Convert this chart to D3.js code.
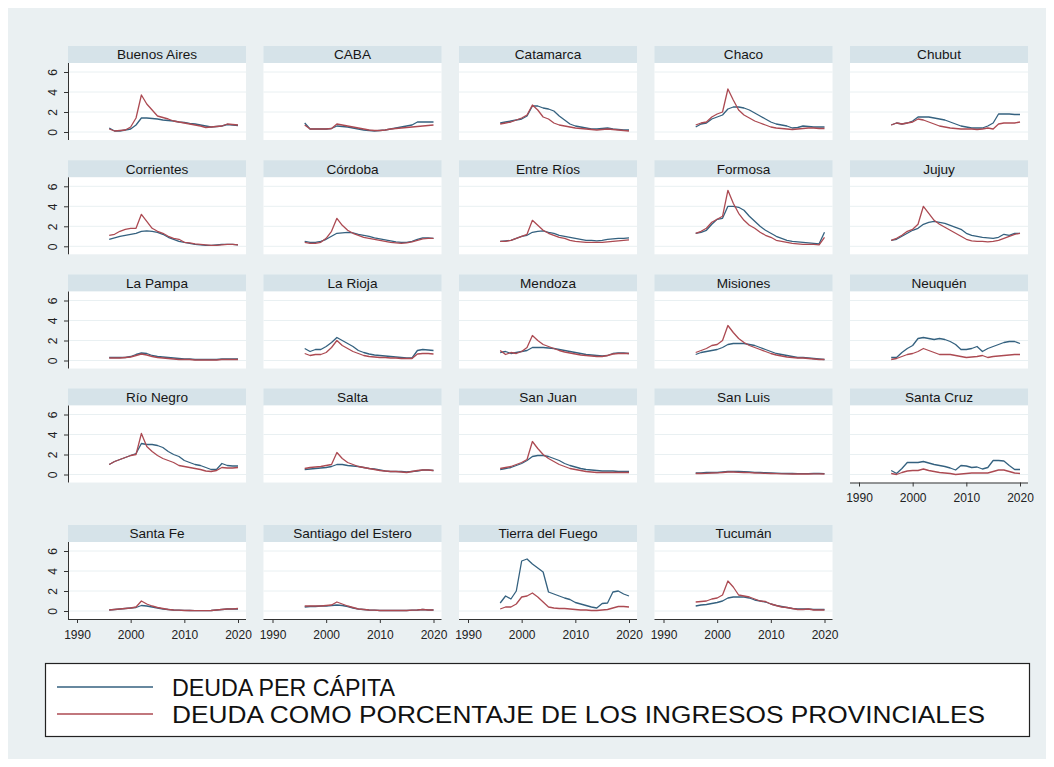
<!DOCTYPE html>
<html><head><meta charset="utf-8">
<script src="https://cdn.jsdelivr.net/npm/d3@7"></script>
<style>html,body{margin:0;padding:0;background:#ffffff}</style>
</head><body><svg id="c" width="1054" height="767"></svg>
<script>
// ---------------- DATA ----------------
const years = [1996,1997,1998,1999,2000,2001,2002,2003,2004,2005,2006,2007,2008,2009,2010,2011,2012,2013,2014,2015,2016,2017,2018,2019,2020];
const provinces = ["Buenos Aires","CABA","Catamarca","Chaco","Chubut","Corrientes","Córdoba","Entre Ríos","Formosa","Jujuy","La Pampa","La Rioja","Mendoza","Misiones","Neuquén","Río Negro","Salta","San Juan","San Luis","Santa Cruz","Santa Fe","Santiago del Estero","Tierra del Fuego","Tucumán"];
const seriesNames = ["DEUDA PER CÁPITA","DEUDA COMO PORCENTAJE DE LOS INGRESOS PROVINCIALES"];
const yTicks = [0,2,4,6];
const xTicks = [1990,2000,2010,2020];

// Deuda per cápita (one array per province, order as in provinces)
const perCapita = [
 [0.4,0.1,0.1,0.2,0.3,0.7,1.4,1.4,1.35,1.3,1.2,1.15,1.1,1.0,0.95,0.85,0.8,0.7,0.6,0.5,0.55,0.6,0.75,0.7,0.65],
 [0.9,0.3,0.3,0.3,0.3,0.35,0.6,0.55,0.5,0.4,0.3,0.2,0.15,0.1,0.15,0.2,0.3,0.4,0.5,0.6,0.7,1.0,1.0,1.0,1.0],
 [0.9,1.0,1.1,1.2,1.3,1.6,2.6,2.6,2.4,2.3,2.1,1.6,1.2,0.8,0.6,0.5,0.4,0.3,0.3,0.35,0.4,0.3,0.25,0.2,0.2],
 [0.5,0.8,0.9,1.3,1.5,1.7,2.3,2.5,2.5,2.4,2.2,1.9,1.6,1.3,1.0,0.8,0.7,0.6,0.4,0.45,0.6,0.55,0.5,0.5,0.5],
 [0.7,0.9,0.8,0.9,1.1,1.5,1.5,1.5,1.4,1.3,1.2,1.0,0.8,0.6,0.5,0.4,0.4,0.4,0.6,0.9,1.8,1.8,1.8,1.75,1.75],
 [0.7,0.85,1.0,1.1,1.2,1.3,1.5,1.55,1.5,1.4,1.2,0.9,0.7,0.5,0.4,0.3,0.2,0.15,0.1,0.1,0.15,0.2,0.2,0.2,0.15],
 [0.5,0.4,0.4,0.5,0.7,1.0,1.3,1.35,1.4,1.35,1.2,1.1,1.0,0.85,0.75,0.65,0.55,0.45,0.4,0.4,0.5,0.7,0.85,0.85,0.8],
 [0.5,0.55,0.6,0.8,1.0,1.1,1.4,1.5,1.55,1.4,1.3,1.1,1.0,0.9,0.8,0.7,0.6,0.6,0.55,0.6,0.7,0.75,0.8,0.8,0.85],
 [1.3,1.4,1.6,2.2,2.7,2.8,4.0,4.0,3.9,3.6,3.0,2.5,2.0,1.6,1.3,1.0,0.8,0.6,0.5,0.45,0.4,0.35,0.3,0.25,1.4],
 [0.6,0.7,1.0,1.3,1.6,1.8,2.2,2.4,2.5,2.4,2.3,2.1,1.9,1.7,1.3,1.1,1.0,0.9,0.85,0.8,0.9,1.2,1.1,1.3,1.3],
 [0.3,0.3,0.3,0.3,0.4,0.6,0.75,0.7,0.5,0.4,0.35,0.3,0.25,0.2,0.15,0.15,0.1,0.1,0.1,0.1,0.1,0.15,0.15,0.15,0.15],
 [1.2,0.9,1.1,1.1,1.4,1.8,2.3,2.0,1.7,1.4,1.0,0.8,0.65,0.55,0.5,0.45,0.4,0.35,0.3,0.25,0.25,1.0,1.1,1.05,1.0],
 [0.8,0.9,0.7,0.8,0.9,1.0,1.3,1.3,1.3,1.25,1.2,1.1,1.0,0.9,0.8,0.7,0.6,0.55,0.5,0.45,0.5,0.7,0.75,0.75,0.7],
 [0.6,0.8,0.9,1.0,1.1,1.3,1.6,1.7,1.7,1.7,1.6,1.5,1.3,1.1,0.9,0.7,0.6,0.5,0.4,0.3,0.3,0.25,0.2,0.15,0.1],
 [0.3,0.3,0.8,1.2,1.5,2.2,2.3,2.2,2.1,2.2,2.1,1.9,1.6,1.1,1.1,1.2,1.4,0.9,1.2,1.4,1.6,1.8,1.9,1.9,1.7],
 [1.0,1.3,1.5,1.7,1.9,2.1,3.1,3.0,3.0,2.9,2.7,2.3,2.0,1.8,1.4,1.2,1.0,0.9,0.7,0.5,0.5,1.1,0.9,0.85,0.85],
 [0.5,0.55,0.6,0.65,0.7,0.8,1.0,1.0,0.9,0.85,0.8,0.7,0.6,0.55,0.45,0.35,0.3,0.3,0.3,0.25,0.3,0.35,0.45,0.45,0.4],
 [0.5,0.6,0.7,0.9,1.1,1.4,1.8,1.9,1.9,1.8,1.6,1.4,1.1,0.9,0.75,0.6,0.5,0.45,0.4,0.35,0.35,0.35,0.3,0.3,0.3],
 [0.15,0.15,0.2,0.2,0.2,0.25,0.3,0.3,0.3,0.28,0.25,0.22,0.2,0.18,0.15,0.13,0.12,0.1,0.1,0.08,0.08,0.08,0.1,0.1,0.08],
 [0.4,0.1,0.6,1.2,1.2,1.2,1.3,1.15,1.0,0.9,0.8,0.65,0.45,0.9,0.85,0.7,0.75,0.55,0.7,1.4,1.4,1.35,0.9,0.5,0.5],
 [0.1,0.15,0.2,0.25,0.3,0.35,0.55,0.5,0.4,0.3,0.2,0.15,0.1,0.08,0.06,0.05,0.04,0.03,0.03,0.05,0.1,0.15,0.2,0.2,0.2],
 [0.4,0.45,0.45,0.5,0.5,0.55,0.6,0.55,0.45,0.3,0.2,0.15,0.1,0.08,0.05,0.05,0.05,0.05,0.05,0.05,0.08,0.1,0.15,0.1,0.1],
 [0.8,1.5,1.2,2.0,5.0,5.2,4.7,4.3,3.9,1.9,1.7,1.5,1.3,1.15,0.85,0.7,0.55,0.4,0.3,0.75,0.8,1.9,2.0,1.7,1.5],
 [0.5,0.6,0.65,0.75,0.85,1.0,1.3,1.4,1.4,1.4,1.3,1.1,1.0,0.9,0.7,0.55,0.45,0.35,0.25,0.2,0.2,0.2,0.15,0.15,0.15]
];
// Deuda como porcentaje de los ingresos provinciales
const pctIngresos = [
 [0.3,0.1,0.15,0.2,0.5,1.4,3.7,2.8,2.2,1.6,1.45,1.3,1.1,1.0,0.9,0.8,0.7,0.6,0.45,0.5,0.55,0.6,0.8,0.75,0.7],
 [0.7,0.3,0.3,0.3,0.3,0.35,0.8,0.7,0.6,0.5,0.4,0.3,0.2,0.15,0.15,0.2,0.3,0.35,0.4,0.45,0.5,0.55,0.6,0.65,0.7],
 [0.8,0.9,1.0,1.2,1.4,1.7,2.7,2.2,1.5,1.3,0.9,0.7,0.6,0.5,0.4,0.35,0.3,0.25,0.2,0.25,0.3,0.25,0.2,0.15,0.1],
 [0.7,0.9,1.0,1.5,1.8,2.0,4.3,3.2,2.2,1.7,1.4,1.1,0.9,0.7,0.5,0.4,0.35,0.3,0.25,0.3,0.35,0.4,0.4,0.35,0.35],
 [0.7,0.9,0.8,0.9,1.0,1.3,1.2,1.0,0.8,0.6,0.5,0.4,0.35,0.3,0.3,0.3,0.25,0.3,0.4,0.3,0.8,0.9,0.9,0.9,1.0],
 [1.1,1.2,1.5,1.7,1.8,1.8,3.2,2.5,1.8,1.5,1.3,1.0,0.8,0.7,0.4,0.35,0.25,0.2,0.15,0.1,0.1,0.15,0.2,0.2,0.15],
 [0.4,0.3,0.3,0.4,0.8,1.5,2.8,2.1,1.6,1.3,1.1,0.9,0.8,0.7,0.6,0.5,0.4,0.35,0.3,0.35,0.45,0.6,0.75,0.8,0.8],
 [0.5,0.5,0.6,0.8,1.0,1.2,2.6,2.1,1.6,1.3,1.1,0.9,0.8,0.6,0.5,0.45,0.4,0.4,0.4,0.4,0.45,0.5,0.55,0.6,0.65],
 [1.3,1.5,1.8,2.4,2.7,3.0,5.6,4.3,3.3,2.6,2.1,1.8,1.4,1.1,0.9,0.6,0.5,0.4,0.3,0.25,0.2,0.2,0.2,0.15,0.9],
 [0.6,0.8,1.1,1.5,1.7,2.2,4.0,3.3,2.6,2.2,1.9,1.6,1.3,1.0,0.7,0.55,0.5,0.5,0.45,0.5,0.6,0.8,1.0,1.2,1.3],
 [0.25,0.25,0.25,0.3,0.35,0.5,0.65,0.55,0.4,0.3,0.25,0.2,0.15,0.1,0.1,0.1,0.05,0.05,0.05,0.05,0.05,0.1,0.1,0.1,0.1],
 [0.7,0.5,0.6,0.6,0.8,1.3,2.0,1.5,1.2,0.9,0.7,0.5,0.4,0.35,0.3,0.3,0.25,0.25,0.2,0.2,0.2,0.65,0.7,0.7,0.65],
 [1.0,0.6,0.8,0.7,0.9,1.3,2.5,2.0,1.6,1.4,1.2,1.0,0.85,0.75,0.65,0.55,0.5,0.45,0.4,0.4,0.5,0.65,0.7,0.7,0.7],
 [0.8,1.0,1.2,1.5,1.6,2.0,3.5,2.8,2.2,1.8,1.5,1.3,1.1,0.9,0.7,0.55,0.45,0.35,0.3,0.25,0.25,0.2,0.15,0.1,0.1],
 [0.1,0.2,0.4,0.6,0.7,0.9,1.2,1.0,0.8,0.6,0.6,0.6,0.5,0.4,0.3,0.35,0.4,0.5,0.3,0.4,0.45,0.5,0.55,0.6,0.6],
 [1.0,1.3,1.5,1.7,1.9,2.0,4.1,2.8,2.3,1.9,1.6,1.4,1.2,0.9,0.8,0.7,0.6,0.5,0.35,0.3,0.4,0.7,0.65,0.65,0.7],
 [0.6,0.7,0.75,0.8,0.9,1.0,2.2,1.6,1.2,1.0,0.8,0.7,0.6,0.5,0.4,0.35,0.3,0.3,0.25,0.2,0.3,0.4,0.45,0.45,0.4],
 [0.6,0.7,0.8,1.0,1.2,1.5,3.3,2.6,2.0,1.6,1.3,1.0,0.8,0.6,0.5,0.4,0.3,0.25,0.2,0.2,0.2,0.2,0.2,0.2,0.2],
 [0.1,0.1,0.12,0.15,0.17,0.2,0.25,0.25,0.22,0.2,0.18,0.15,0.13,0.12,0.1,0.08,0.07,0.06,0.05,0.05,0.05,0.05,0.06,0.06,0.05],
 [0.1,0.0,0.2,0.35,0.4,0.4,0.55,0.4,0.3,0.2,0.15,0.1,0.0,0.05,0.1,0.15,0.15,0.15,0.15,0.3,0.45,0.45,0.3,0.15,0.1],
 [0.1,0.15,0.2,0.25,0.3,0.4,1.0,0.7,0.5,0.35,0.25,0.15,0.1,0.08,0.05,0.05,0.03,0.03,0.03,0.05,0.1,0.15,0.2,0.2,0.25],
 [0.5,0.5,0.5,0.5,0.55,0.6,0.9,0.7,0.5,0.35,0.2,0.15,0.1,0.08,0.05,0.05,0.05,0.05,0.05,0.05,0.08,0.1,0.15,0.1,0.1],
 [0.2,0.4,0.4,0.7,1.4,1.5,1.8,1.4,0.9,0.4,0.3,0.25,0.25,0.2,0.15,0.1,0.1,0.05,0.05,0.1,0.15,0.3,0.45,0.45,0.4],
 [0.9,0.95,1.0,1.2,1.3,1.6,3.0,2.4,1.6,1.5,1.4,1.2,1.0,0.95,0.7,0.55,0.4,0.35,0.25,0.15,0.15,0.2,0.1,0.1,0.1]
];
const seriesColors = ["#34617f","#ac4a52"];

// ---------------- LAYOUT ----------------
const W = 1054, H = 767;
const svg = d3.select("#c");
const font = "'Liberation Sans', Arial, sans-serif";

svg.append("rect").attr("x",0).attr("y",0).attr("width",W).attr("height",H).attr("fill","#ffffff");
svg.append("rect").attr("x",8).attr("y",8).attr("width",W-16).attr("height",H-16).attr("fill","#eaf0f2");

const colLeft = [68, 263.5, 459, 654.5, 850];
const rowTop = [46, 160.3, 274.5, 388.5, 525];
const panelW = 178, headerH = 17, plotH = 77;

const x = d3.scaleLinear().domain([1990, 2020]).range([9, 170]);
const y = d3.scaleLinear().domain([0, 6]).range([69, 9]);

const line = d3.line().x(d => x(d[0])).y(d => y(d[1]));

provinces.forEach((name, i) => {
  const r = Math.floor(i / 5), c = i % 5;
  const g = svg.append("g").attr("transform", `translate(${colLeft[c]},${rowTop[r]})`);
  // header
  g.append("rect").attr("x",0).attr("y",0).attr("width",panelW).attr("height",headerH).attr("fill","#d6e3e9");
  g.append("text").attr("x",panelW/2).attr("y",headerH/2+4.8).attr("text-anchor","middle")
    .attr("font-family",font).attr("font-size",13.6).attr("fill","#161616").text(name);
  const p = g.append("g").attr("transform",`translate(0,${headerH})`);
  p.append("rect").attr("x",0).attr("y",0).attr("width",panelW).attr("height",plotH).attr("fill","#ffffff");
  // grid
  p.selectAll("line.grid").data(yTicks).enter().append("line")
    .attr("x1",0).attr("x2",panelW).attr("y1",d=>y(d)).attr("y2",d=>y(d))
    .attr("stroke","#e9f0f2").attr("stroke-width",1);
  // series
  [perCapita[i], pctIngresos[i]].forEach((vals, s) => {
    p.append("path").datum(years.map((yr, k) => [yr, vals[k]]))
      .attr("d", line).attr("fill","none").attr("stroke",seriesColors[s])
      .attr("stroke-width",1.3).attr("stroke-linejoin","round");
  });
  // y axis on first column
  if (c === 0) {
    const ya = p.append("g").call(d3.axisLeft(y).tickValues(yTicks).tickSize(4).tickFormat(d3.format("d")));
    ya.select(".domain").attr("d",`M0.5,0V${plotH}`).attr("stroke","#333");
    ya.selectAll(".tick line").attr("stroke","#333");
    ya.selectAll(".tick text").attr("font-family",font).attr("font-size",12).attr("fill","#222")
      .attr("transform","rotate(-90)").attr("x",0).attr("y",-11).attr("dy","0").attr("text-anchor","middle");
  }
  // x axis on last row, or last panel in the column
  const isBottom = (r === 4) || (i + 5 >= provinces.length);
  if (isBottom) {
    const xa = p.append("g").attr("transform",`translate(0,${plotH})`)
      .call(d3.axisBottom(x).tickValues(xTicks).tickSize(4).tickFormat(d3.format("d")));
    xa.select(".domain").attr("d",`M0,0.5H${panelW}`).attr("stroke","#333");
    xa.selectAll(".tick line").attr("stroke","#333");
    xa.selectAll(".tick text").attr("font-family",font).attr("font-size",12).attr("fill","#222").attr("y",11);
  }
});

// ---------------- LEGEND ----------------
const lg = svg.append("g");
lg.append("rect").attr("x",45.5).attr("y",663.5).attr("width",984).attr("height",73)
  .attr("fill","#ffffff").attr("stroke","#222").attr("stroke-width",1.2);
const legY = [687, 714];
const legendWidths = [223, 813];
seriesNames.forEach((nm, s) => {
  lg.append("line").attr("x1",57).attr("x2",153).attr("y1",legY[s]).attr("y2",legY[s])
    .attr("stroke",seriesColors[s]).attr("stroke-width",1.6);
  lg.append("text").attr("x",172).attr("y",legY[s]+8.5)
    .attr("font-family","'Liberation Sans Narrow', 'Liberation Sans', Arial, sans-serif")
    .attr("font-size",23).attr("fill","#111")
    .attr("textLength",legendWidths[s]).attr("lengthAdjust","spacingAndGlyphs").text(nm);
});
</script></body></html>
